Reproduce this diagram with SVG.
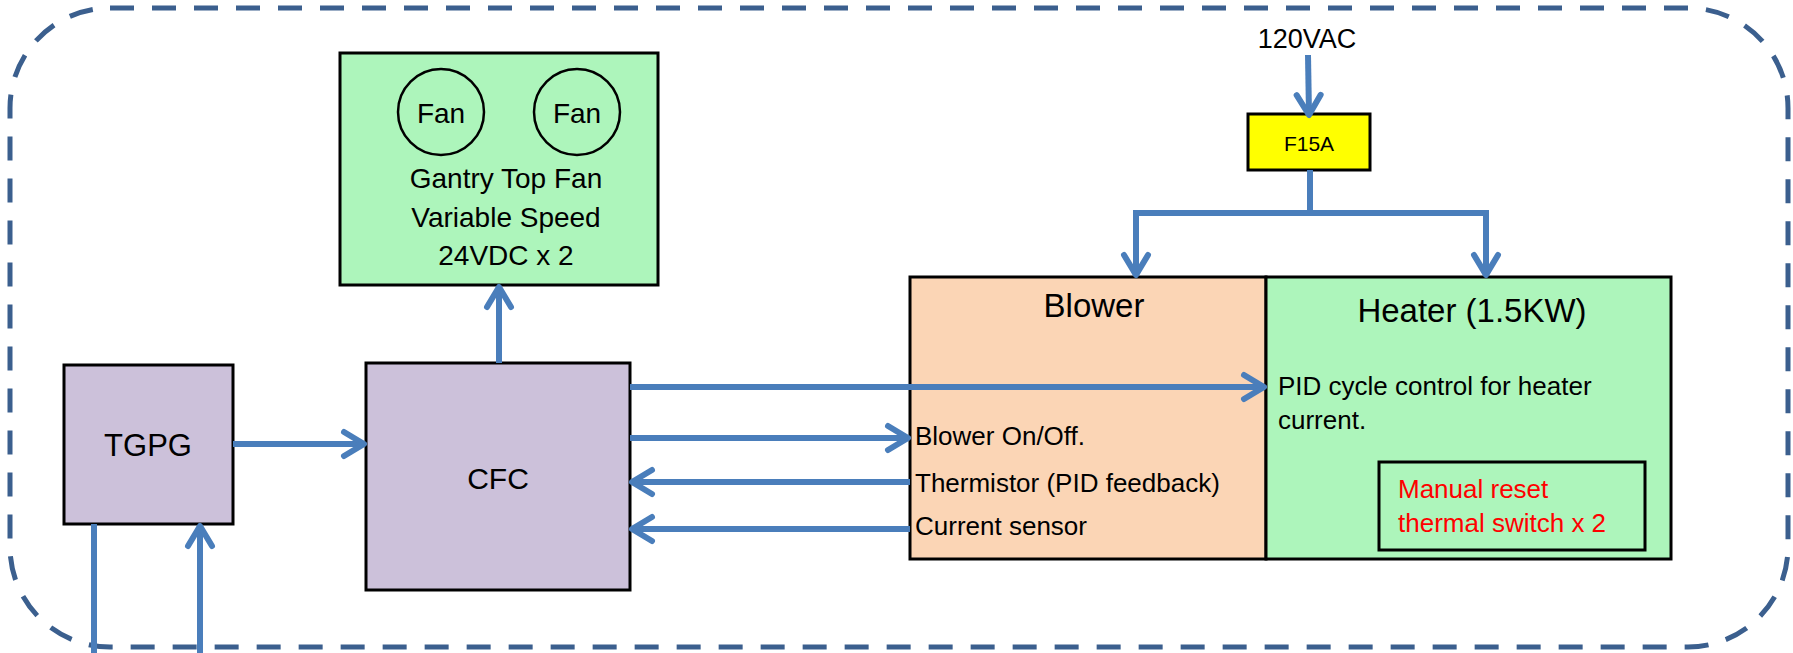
<svg xmlns="http://www.w3.org/2000/svg" width="1793" height="653" viewBox="0 0 1793 653">
<style>
text{font-family:"Liberation Sans",Arial,sans-serif;fill:#000}
.box{stroke:#000;stroke-width:3}
.lav{fill:#ccc1da}
.grn{fill:#adf5bb}
.pch{fill:#fbd5b5}
.ylw{fill:#ffff00}
.c{text-anchor:middle}
.ln{fill:none;stroke:#4a7ebb;stroke-width:6}
.red{fill:#ff0000}
</style>
<defs>
<marker id="ah" markerUnits="userSpaceOnUse" markerWidth="40" markerHeight="40" viewBox="-30 -20 40 40" refX="0" refY="0" orient="auto">
<path d="M-20,-12 L0,0 L-20,12" fill="none" stroke="#4a7ebb" stroke-width="6" stroke-linecap="round" stroke-linejoin="round"/>
</marker>
</defs>
<rect x="10" y="8" width="1778" height="639" rx="100" ry="100" fill="none" stroke="#3b5f8e" stroke-width="5" stroke-dasharray="24 18"/>

<g id="fans">
<rect class="box grn" x="340" y="53" width="318" height="232"/>
<circle cx="441" cy="112" r="43" fill="none" stroke="#000" stroke-width="2.5"/>
<circle cx="577" cy="112" r="43" fill="none" stroke="#000" stroke-width="2.5"/>
<text class="c" x="441" y="123" font-size="28">Fan</text>
<text class="c" x="577" y="123" font-size="28">Fan</text>
<text class="c" x="506" y="188" font-size="28">Gantry Top Fan</text>
<text class="c" x="506" y="227" font-size="28">Variable Speed</text>
<text class="c" x="506" y="265" font-size="28">24VDC x 2</text>
</g>

<g id="tgpg">
<rect class="box lav" x="64" y="365" width="169" height="159"/>
<text class="c" x="148" y="456" font-size="31">TGPG</text>
</g>

<g id="cfc">
<rect class="box lav" x="366" y="363" width="264" height="227"/>
<text class="c" x="498" y="489" font-size="30">CFC</text>
</g>

<g id="fuse">
<rect class="box ylw" x="1248" y="114" width="122" height="56" stroke-width="2"/>
<text class="c" x="1309" y="151" font-size="21">F15A</text>
</g>

<g id="label120">
<text class="c" x="1307" y="48" font-size="27">120VAC</text>
</g>

<g id="blower">
<rect class="box pch" x="910" y="277" width="356" height="282"/>
<text class="c" x="1094" y="317" font-size="33">Blower</text>
<text x="915" y="445" font-size="26">Blower On/Off.</text>
<text x="915" y="492" font-size="26">Thermistor (PID feedback)</text>
<text x="915" y="535" font-size="26">Current sensor</text>
</g>

<g id="heater">
<rect class="box grn" x="1266" y="277" width="405" height="282"/>
<text class="c" x="1472" y="322" font-size="33">Heater (1.5KW)</text>
<text x="1278" y="395" font-size="26">PID cycle control for heater</text>
<text x="1278" y="429" font-size="26">current.</text>
</g>

<g id="thermal">
<rect class="box" fill="none" x="1379" y="462" width="266" height="88"/>
<text class="red" x="1398" y="498" font-size="26">Manual reset</text>
<text class="red" x="1398" y="532" font-size="26">thermal switch x 2</text>
</g>

<g id="connectors">
<line class="ln" x1="499" y1="363" x2="499" y2="287" marker-end="url(#ah)"/>
<line class="ln" x1="233" y1="444" x2="364" y2="444" marker-end="url(#ah)"/>
<line class="ln" x1="630" y1="387" x2="1264" y2="387" marker-end="url(#ah)"/>
<line class="ln" x1="630" y1="438" x2="908" y2="438" marker-end="url(#ah)"/>
<line class="ln" x1="910" y1="482" x2="632" y2="482" marker-end="url(#ah)"/>
<line class="ln" x1="910" y1="529" x2="632" y2="529" marker-end="url(#ah)"/>
<line class="ln" x1="94" y1="524" x2="94" y2="653"/>
<line class="ln" x1="200" y1="653" x2="200" y2="526" marker-end="url(#ah)"/>
<line class="ln" x1="1308" y1="55" x2="1309" y2="115" marker-end="url(#ah)"/>
<line class="ln" x1="1310" y1="170" x2="1310" y2="213"/>
<line class="ln" x1="1133" y1="213" x2="1489" y2="213" stroke-width="7"/>
<line class="ln" x1="1136" y1="213" x2="1136" y2="275" marker-end="url(#ah)"/>
<line class="ln" x1="1486" y1="213" x2="1486" y2="275" marker-end="url(#ah)"/>
</g>
</svg>
